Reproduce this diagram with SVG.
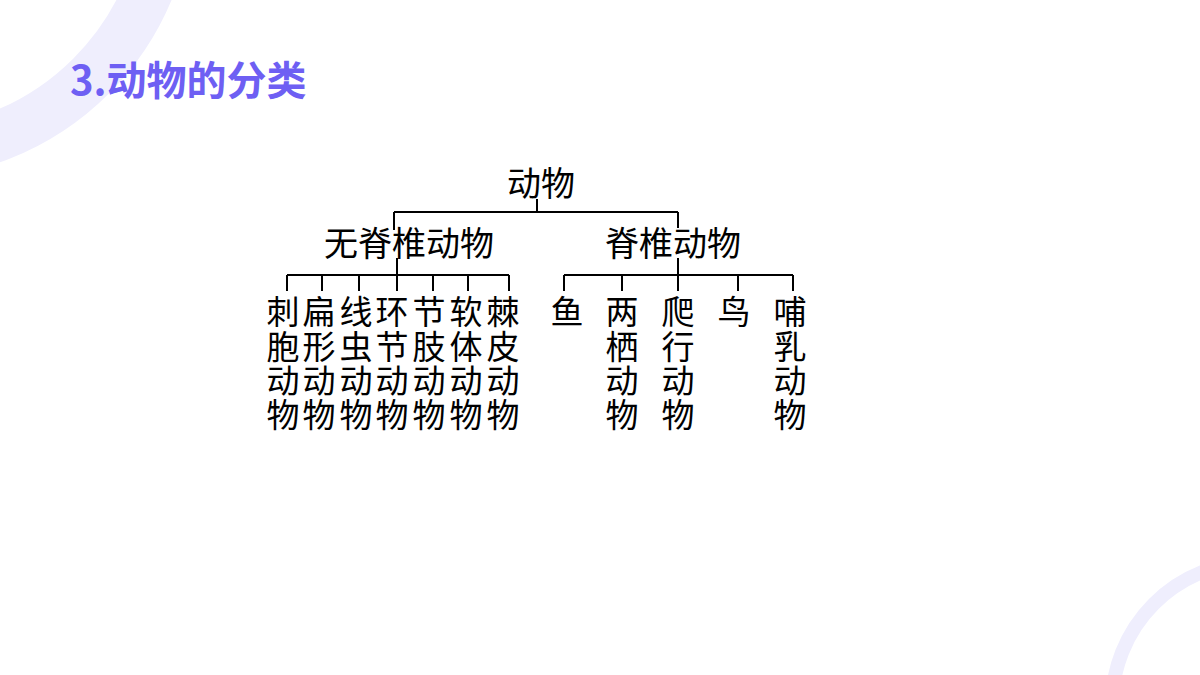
<svg xmlns="http://www.w3.org/2000/svg" width="1200" height="675" viewBox="0 0 1200 675">
<defs>
<style>
.ring{fill:none;stroke:#efeefd}
.title{font-family:"Noto Sans CJK SC","Noto Sans",sans-serif;font-weight:700;font-size:40px;fill:#6e5ff3}
.t{font-family:"Noto Sans CJK SC",sans-serif;font-size:34px;fill:#000;text-anchor:middle}
.s{font-family:"Noto Sans CJK SC",sans-serif;font-size:33px;fill:#000;text-anchor:middle}
.ln{fill:none;stroke:#000;stroke-width:2}
</style>
</defs>
<rect width="1200" height="675" fill="#fff"/>
<g id="decor">
<circle class="ring" cx="-97" cy="-112" r="266" stroke-width="50"/>
<circle class="ring" cx="1255" cy="705" r="143" stroke-width="14"/>
</g>
<text class="title" x="70" y="95">3.动物的分类</text>
<g id="connectors">
<path class="ln" d="M537 199V212M394 212H678M394 212V230M678 212V228"/>
<path class="ln" d="M397 258V275M287 275H509M287 275V291M322 275V291M359 275V291M397 275V291M433 275V291M468 275V291M509 275V291"/>
<path class="ln" d="M678 258V275M564 275H793M564 275V291M622 275V291M678 275V291M738 275V291M793 275V291"/>
</g>
<g id="root"><text class="t" x="541" y="196">动物</text></g>
<g id="invertebrates"><text class="t" x="409" y="256">无脊椎动物</text></g>
<g id="vertebrates"><text class="t" x="673" y="256">脊椎动物</text></g>
<g id="cnidaria"><text class="s" x="283" y="324">刺</text><text class="s" x="283" y="359">胞</text><text class="s" x="283" y="393">动</text><text class="s" x="283" y="427">物</text></g>
<g id="flatworms"><text class="s" x="319" y="324">扁</text><text class="s" x="319" y="359">形</text><text class="s" x="319" y="393">动</text><text class="s" x="319" y="427">物</text></g>
<g id="nematodes"><text class="s" x="356" y="324">线</text><text class="s" x="356" y="359">虫</text><text class="s" x="356" y="393">动</text><text class="s" x="356" y="427">物</text></g>
<g id="annelids"><text class="s" x="392" y="324">环</text><text class="s" x="392" y="359">节</text><text class="s" x="392" y="393">动</text><text class="s" x="392" y="427">物</text></g>
<g id="arthropods"><text class="s" x="429" y="324">节</text><text class="s" x="429" y="359">肢</text><text class="s" x="429" y="393">动</text><text class="s" x="429" y="427">物</text></g>
<g id="molluscs"><text class="s" x="466" y="324">软</text><text class="s" x="466" y="359">体</text><text class="s" x="466" y="393">动</text><text class="s" x="466" y="427">物</text></g>
<g id="echinoderms"><text class="s" x="503" y="324">棘</text><text class="s" x="503" y="359">皮</text><text class="s" x="503" y="393">动</text><text class="s" x="503" y="427">物</text></g>
<g id="fish"><text class="s" x="567" y="324">鱼</text></g>
<g id="amphibians"><text class="s" x="622" y="324">两</text><text class="s" x="622" y="359">栖</text><text class="s" x="622" y="393">动</text><text class="s" x="622" y="427">物</text></g>
<g id="reptiles"><text class="s" x="678" y="324">爬</text><text class="s" x="678" y="359">行</text><text class="s" x="678" y="393">动</text><text class="s" x="678" y="427">物</text></g>
<g id="birds"><text class="s" x="734" y="324">鸟</text></g>
<g id="mammals"><text class="s" x="790" y="324">哺</text><text class="s" x="790" y="359">乳</text><text class="s" x="790" y="393">动</text><text class="s" x="790" y="427">物</text></g>
</svg>
